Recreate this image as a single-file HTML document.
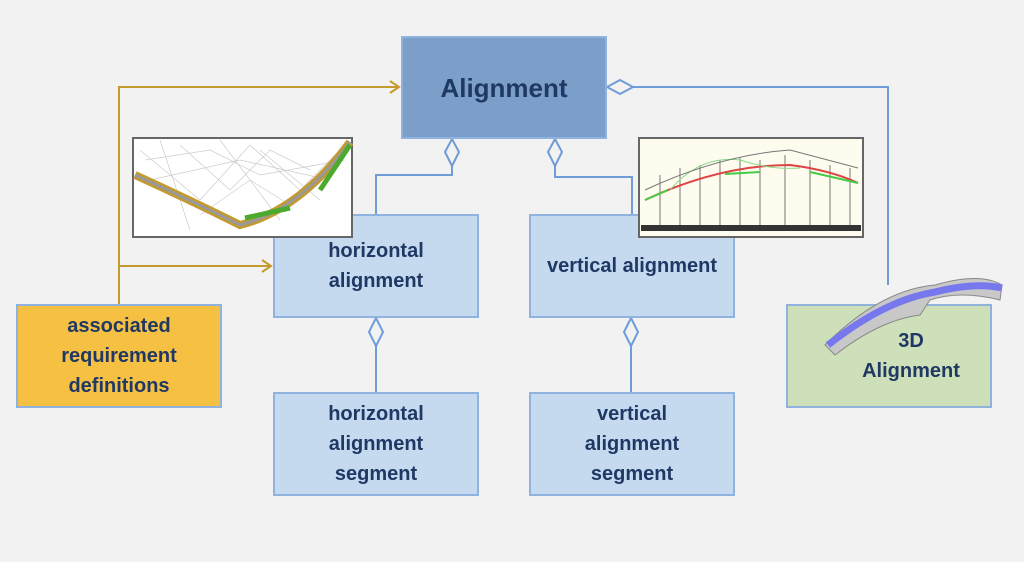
<!DOCTYPE html>
<html><head><style>
body{margin:0;width:1024px;height:562px;background:#f2f2f2;overflow:hidden;position:relative;font-family:"Liberation Sans",sans-serif}
.b{position:absolute;box-sizing:border-box;display:flex;align-items:center;justify-content:center;text-align:center;color:#1f3864;font-weight:bold;font-size:20px;line-height:30px}
.l{background:#c5d9ef;border:2px solid #8fb2df}
</style></head><body>
<svg width="1024" height="562" style="position:absolute;left:0;top:0">
<g fill="none" stroke="#c49a2e" stroke-width="2">
<path d="M119 304V87H399M119 266H271"/>
<path d="M390 81L399 87L390 93M262 260L271 266L262 272"/>
</g>
<g fill="none" stroke="#6f9bd6" stroke-width="2">
<path d="M452 166V175H376V214M555 166V177H632V214M632 87H888V285M376 346V392M631 346V392"/>
<path d="M452 139L459 152L452 166L445 152Z M555 139L562 152L555 166L548 152Z M607 87L620 80L633 87L620 94Z M376 318L383 332L376 346L369 332Z M631 318L638 332L631 346L624 332Z" fill="#f2f2f2"/>
</g>
</svg>
<div class="b" style="left:401px;top:36px;width:206px;height:103px;background:#7c9fca;border:2px solid #8fb2df;font-size:26px">Alignment</div>
<div class="b l" style="left:273px;top:214px;width:206px;height:104px">horizontal<br>alignment</div>
<div class="b l" style="left:529px;top:214px;width:206px;height:104px">vertical alignment</div>
<div class="b l" style="left:273px;top:392px;width:206px;height:104px">horizontal<br>alignment<br>segment</div>
<div class="b l" style="left:529px;top:392px;width:206px;height:104px">vertical<br>alignment<br>segment</div>
<div class="b" style="left:16px;top:304px;width:206px;height:104px;background:#f6c143;border:2px solid #8fb2df">associated<br>requirement<br>definitions</div>
<div class="b" style="left:786px;top:304px;width:206px;height:104px;background:#cde0b9;border:2px solid #8fb2df;padding-left:44px">3D<br>Alignment</div>
<svg width="1024" height="562" style="position:absolute;left:0;top:0">
<rect x="133" y="138" width="219" height="99" fill="#fff" stroke="#666" stroke-width="2"/>
<g stroke="#ccc" stroke-width="0.7" fill="none">
<path d="M140 150L200 200L250 145L300 190L340 150M160 140L190 230M220 140L280 220M260 150L320 200M150 180L240 160L330 180M180 145L230 190L270 150L310 170M145 160L210 150L260 175L345 160M200 215L250 180L290 205"/>
</g>
<path d="M135 175Q190 200 240 225Q300 210 350 142" fill="none" stroke="#c49a2e" stroke-width="8"/>
<path d="M135 175Q190 200 240 225Q300 210 350 142" fill="none" stroke="#999" stroke-width="3"/>
<path d="M245 218L290 208M320 190L350 145" stroke="#4caa2e" stroke-width="5" fill="none"/>
<rect x="639" y="138" width="224" height="99" fill="#fdfcef" stroke="#666" stroke-width="2"/>
<g stroke="#555" stroke-width="0.8" fill="none">
<path d="M660 175V228M680 168V228M700 165V228M720 160V228M740 158V228M760 160V228M785 155V228M810 160V228M830 165V228M850 168V228"/>
</g>
<path d="M645 200Q720 165 790 165Q830 170 858 183" fill="none" stroke="#d44" stroke-width="2"/>
<path d="M645 200L668 190M725 174L760 172M810 172L858 183" stroke="#4c4" stroke-width="2" fill="none"/>
<path d="M670 190Q700 155 740 160Q770 170 800 168" fill="none" stroke="#8d8" stroke-width="1"/>
<path d="M645 190Q720 155 790 150L858 168" fill="none" stroke="#777"/>
<rect x="641" y="225" width="220" height="6" fill="#333"/>
<path d="M825 345Q880 290 935 285Q980 272 1002 285L1000 300Q960 290 930 300L920 315Q880 320 835 355Z" fill="#c8c8c8" stroke="#888"/>
<path d="M828 345Q885 300 935 292Q975 282 1002 288" fill="none" stroke="#7777ee" stroke-width="7"/>
</svg>
</body></html>
